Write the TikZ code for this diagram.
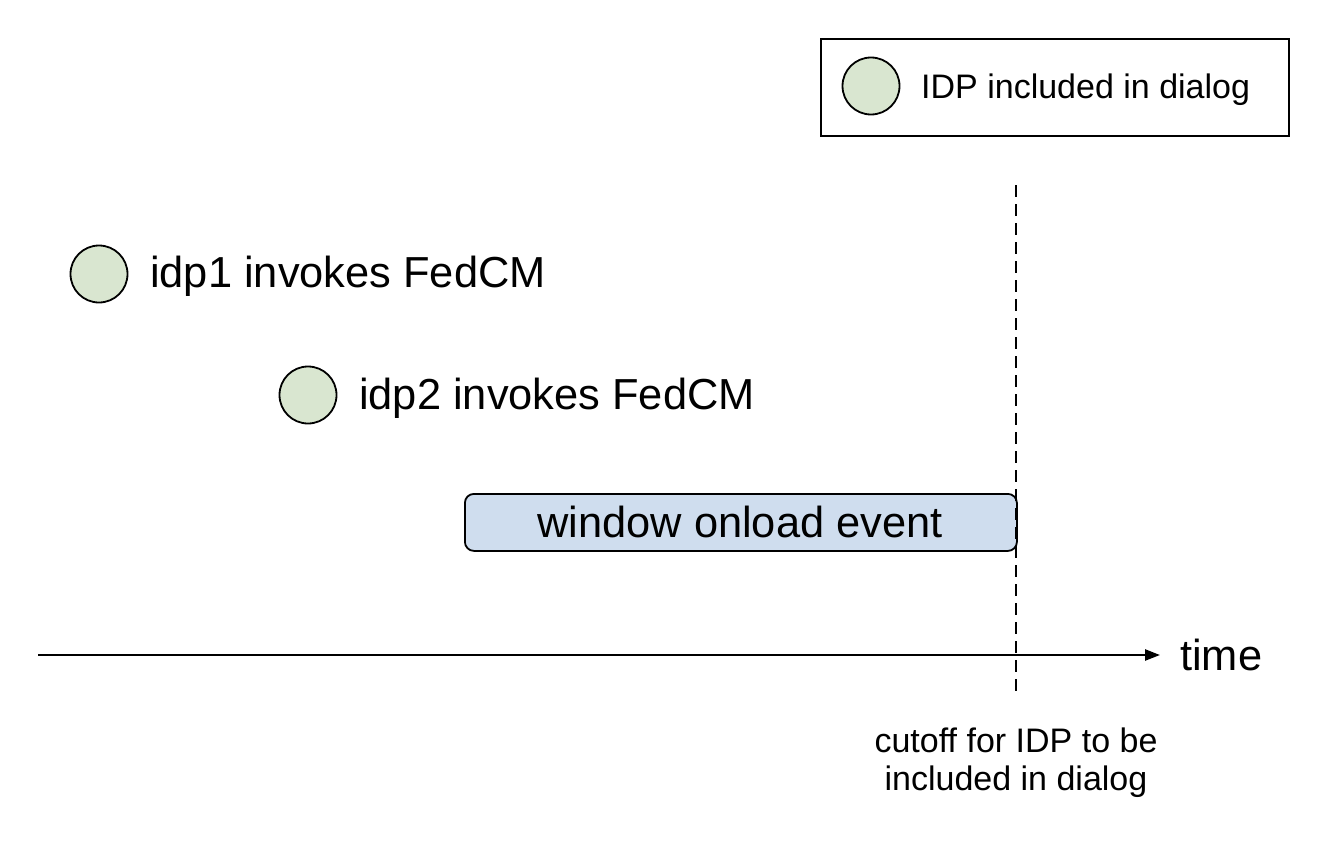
\documentclass[tikz,border=0pt]{standalone}
\usepackage{fontspec}
\setmainfont{Liberation Sans}
\usetikzlibrary{arrows.meta}
\definecolor{dotgreen}{HTML}{D9E6D0}
\definecolor{boxblue}{HTML}{CFDDEE}
\begin{document}
\begin{tikzpicture}[x=1pt,y=-1pt,
  dot/.style={circle,draw=black,line width=1.8pt,fill=dotgreen,minimum size=57pt,inner sep=0pt},
  bigtext/.style={font=\fontsize{43.4}{48}\selectfont,inner sep=0pt,anchor=base west},
  smalltext/.style={font=\fontsize{34}{38}\selectfont,inner sep=0pt},
  eventbox/.style={draw=black,line width=1.8pt,fill=boxblue,rounded corners=9pt,inner sep=0pt}]
\useasboundingbox (0,0) rectangle (1324,848);
% legend
\node[draw=black,line width=1.8pt,minimum width=468pt,minimum height=97pt,inner sep=0pt,anchor=north west] (legend) at (820,38) {};
\node[dot] (ldot) at (871,86) {};
\node[smalltext,anchor=base west] (ltext) at (921,99) {IDP included in dialog};
% idp1
\node[dot] (d1) at (99,274) {};
\node[bigtext] (t1) at (150,287) {idp1 invokes FedCM};
% idp2
\node[dot] (d2) at (308,395) {};
\node[bigtext] (t2) at (359,409) {idp2 invokes FedCM};
% window onload box
\node[eventbox,minimum width=552pt,minimum height=57pt,anchor=north west] (onload) at (464,493) {};
\node[font=\fontsize{43.4}{48}\selectfont,inner sep=0pt,anchor=base] (onloadtext) at (740,537) {window onload event};
% axis
\coordinate (axstart) at (38,655);
\coordinate (axend) at (1160,655);
\draw[line width=2.4pt,-{Triangle[length=15pt,width=11pt]}] (axstart) -- (axend);
\node[bigtext] (time) at (1180,670) {time};
% cutoff
\coordinate (cuttop) at (1016,185);
\coordinate (cutbot) at (1016,697);
\draw[line width=1.8pt,dash pattern=on 12pt off 7pt] (cuttop) -- (cutbot);
\node[smalltext,anchor=base,align=center] (cut1) at (1016,752) {cutoff for IDP to be};
\node[smalltext,anchor=base,align=center] (cut2) at (1016,790) {included in dialog};
\end{tikzpicture}
\end{document}
